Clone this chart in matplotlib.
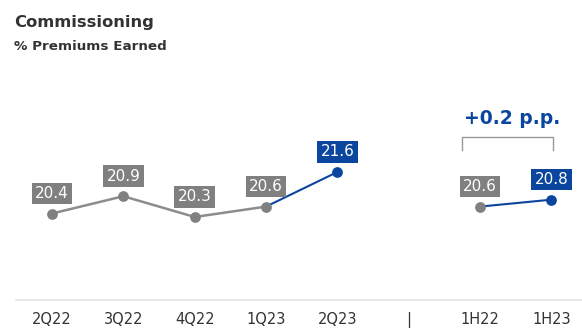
import matplotlib
matplotlib.use("Agg")
import matplotlib.pyplot as plt

categories = ['2Q22', '3Q22', '4Q22', '1Q23', '2Q23', '|', '1H22', '1H23']
quarter_x = [0, 1, 2, 3, 4]
quarter_vals = [20.4, 20.9, 20.3, 20.6, 21.6]
half_x = [6, 7]
half_vals = [20.6, 20.8]
delta_text = '+0.2 p.p.'
title = 'Commissioning'
subtitle = '% Premiums Earned'

GRAY = '#808080'
LINE_GRAY = '#8c8c8c'
BLUE = '#0b469e'
TXT = '#333333'

fig = plt.figure(figsize=(5.82, 3.29), dpi=100)
ax = fig.add_axes([16/582, 1-300/329, 1-16/582, (300-80)/329])

ax.plot(quarter_x[:4], quarter_vals[:4], color=LINE_GRAY, lw=1.8, zorder=2)
ax.plot(quarter_x[3:], quarter_vals[3:], color=BLUE, lw=1.5, zorder=2)
ax.scatter(quarter_x[:4], quarter_vals[:4], color=GRAY, s=45, zorder=3)
ax.scatter(quarter_x[4:], quarter_vals[4:], color=BLUE, s=45, zorder=3)

ax.plot(half_x, half_vals, color=BLUE, lw=1.5, zorder=2)
ax.scatter(half_x[:1], half_vals[:1], color=GRAY, s=45, zorder=3)
ax.scatter(half_x[1:], half_vals[1:], color=BLUE, s=45, zorder=3)

def label(x, v, c):
    ax.annotate(f'{v:.1f}', (x, v), xytext=(0, 14.5), textcoords='offset points',
                ha='center', va='center', color='white', fontsize=11,
                bbox=dict(boxstyle='square,pad=0.22', fc=c, ec='none'), zorder=4)

for i, (x, v) in enumerate(zip(quarter_x, quarter_vals)):
    label(x, v, BLUE if i == 4 else GRAY)
for i, (x, v) in enumerate(zip(half_x, half_vals)):
    label(x, v, BLUE if i == 1 else GRAY)

ax.set_xlim(-0.505, 7.43)
ax.set_ylim(17.9, 24.26)

yb_top = 20.3 + (217-137)/34.6
yb_bot = 20.3 + (217-150)/34.6
ax.plot([5.75, 5.75, 7.03, 7.03], [yb_bot, yb_top, yb_top, yb_bot], color='#999999', lw=1.0)
ax.text(6.45, 20.3 + (217-118)/34.6, delta_text, ha='center', va='center',
        color=BLUE, fontsize=13.5, fontweight='bold')

for s in ['top', 'right', 'left']:
    ax.spines[s].set_visible(False)
ax.spines['bottom'].set_color('#e3e3e3')
ax.spines['bottom'].set_linewidth(1.2)
ax.set_yticks([])
ax.set_xticks(range(len(categories)))
ax.set_xticklabels(categories, fontsize=10.5, color=TXT)
ax.tick_params(axis='x', length=0, pad=9)

fig.text(14/582, 1-22/329, title, fontsize=11.8, fontweight='bold', color=TXT, va='center')
fig.text(14/582, 1-46/329, subtitle, fontsize=9.7, fontweight='bold', color=TXT, va='center')

fig.savefig('out.png', dpi=100)
